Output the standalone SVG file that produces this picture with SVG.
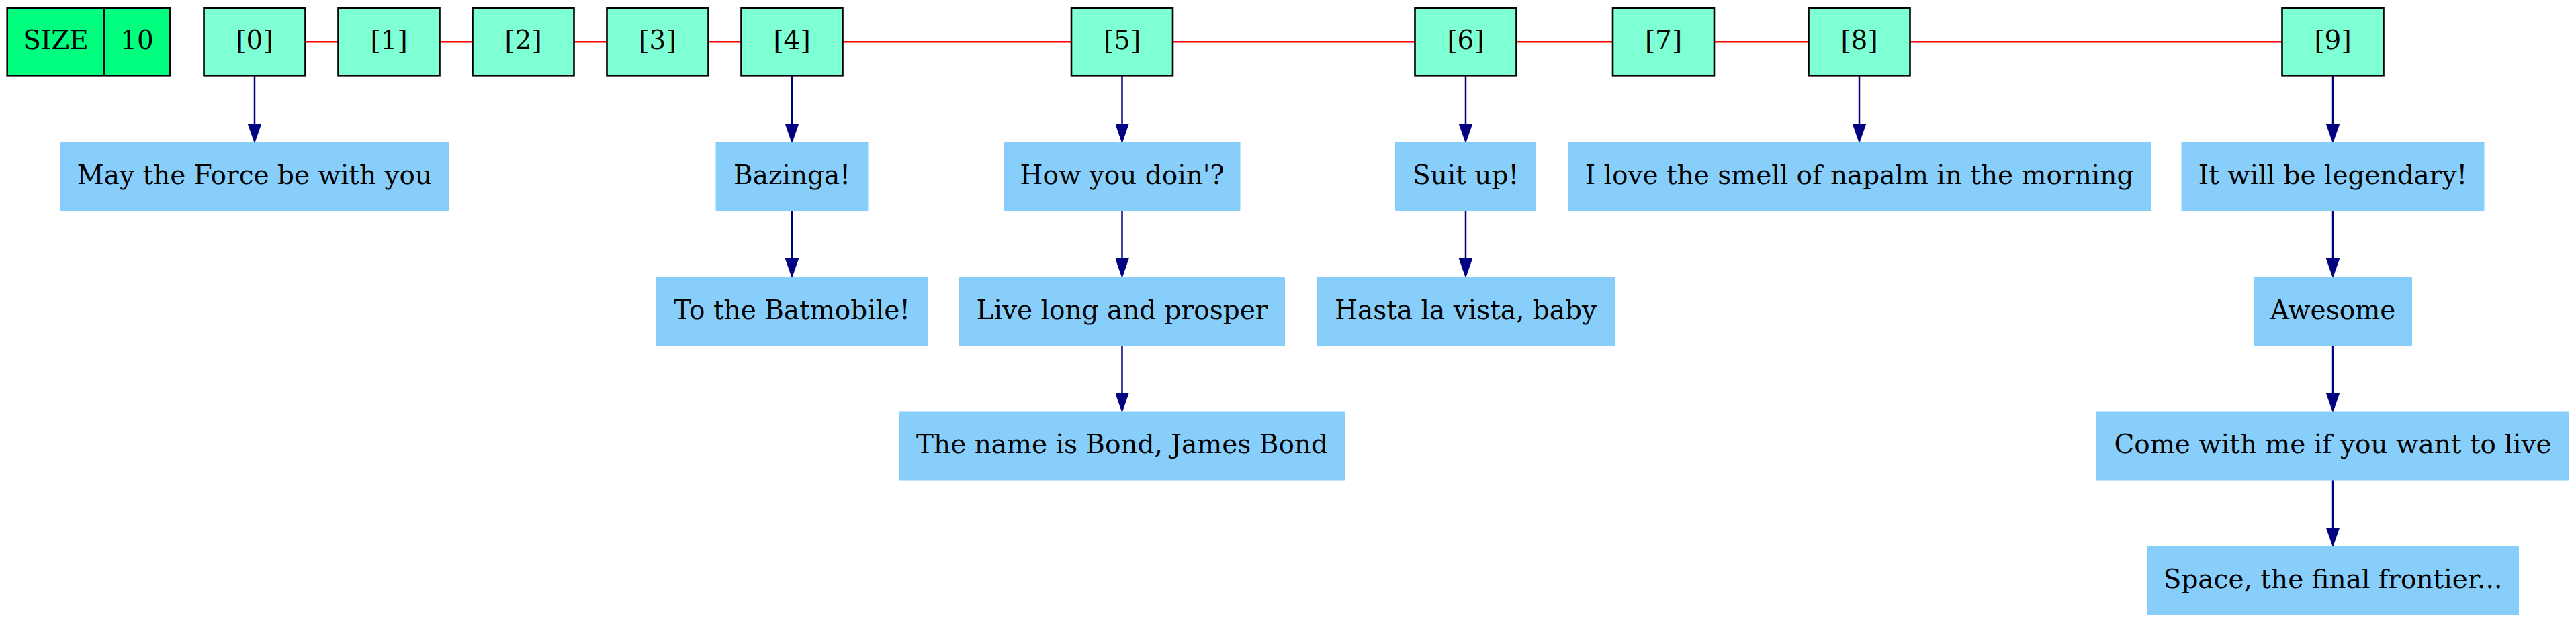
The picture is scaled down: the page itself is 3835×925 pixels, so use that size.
<svg xmlns="http://www.w3.org/2000/svg" width="3835" height="925" viewBox="0 0 3835 925">
<style>
  .idx { fill: #7fffd4; stroke: #000000; stroke-width: 2.6; }
  .size { fill: #00ff7f; stroke: #000000; stroke-width: 2.6; }
  .val { fill: #87cefa; stroke: #87cefa; stroke-width: 2; }
  text { font-family: "DejaVu Serif", "Liberation Serif", serif; font-size: 39px; fill: #000000; text-anchor: middle; }
  .link { stroke: #ff0000; stroke-width: 2.6; fill: none; }
  .ptr { stroke: #000080; stroke-width: 2.5; fill: none; marker-end: url(#arr); }
</style>
<defs>
  <marker id="arr" markerUnits="userSpaceOnUse" viewBox="0 0 28 20" refX="0" refY="10" markerWidth="28" markerHeight="20" orient="auto">
    <path d="M0,0.3 L28,10 L0,19.7 z" fill="#000080" stroke="#000080" stroke-width="1"/>
  </marker>
</defs>
<rect width="3835" height="925" fill="#ffffff"/>
<g id="connectors">
  <line class="link" x1="454.5" y1="62.3" x2="503.5" y2="62.3"/>
  <line class="link" x1="654.5" y1="62.3" x2="703.5" y2="62.3"/>
  <line class="link" x1="854.5" y1="62.3" x2="903.5" y2="62.3"/>
  <line class="link" x1="1054.5" y1="62.3" x2="1103.5" y2="62.3"/>
  <line class="link" x1="1254.5" y1="62.3" x2="1595" y2="62.3"/>
  <line class="link" x1="1746" y1="62.3" x2="2106.5" y2="62.3"/>
  <line class="link" x1="2257.5" y1="62.3" x2="2401" y2="62.3"/>
  <line class="link" x1="2552" y1="62.3" x2="2692.5" y2="62.3"/>
  <line class="link" x1="2843.5" y1="62.3" x2="3397.5" y2="62.3"/>
  <line class="ptr" x1="379" y1="112.3" x2="379" y2="184.5"/>
  <line class="ptr" x1="1179" y1="112.3" x2="1179" y2="184.5"/>
  <line class="ptr" x1="1179" y1="313.5" x2="1179" y2="385"/>
  <line class="ptr" x1="1670.5" y1="112.3" x2="1670.5" y2="184.5"/>
  <line class="ptr" x1="1670.5" y1="313.5" x2="1670.5" y2="385"/>
  <line class="ptr" x1="1670.5" y1="514" x2="1670.5" y2="585.5"/>
  <line class="ptr" x1="2182" y1="112.3" x2="2182" y2="184.5"/>
  <line class="ptr" x1="2182" y1="313.5" x2="2182" y2="385"/>
  <line class="ptr" x1="2768" y1="112.3" x2="2768" y2="184.5"/>
  <line class="ptr" x1="3473" y1="112.3" x2="3473" y2="184.5"/>
  <line class="ptr" x1="3473" y1="313.5" x2="3473" y2="385"/>
  <line class="ptr" x1="3473" y1="514" x2="3473" y2="585.5"/>
  <line class="ptr" x1="3473" y1="714.5" x2="3473" y2="786"/>
</g>
<g id="size">
  <rect class="size" x="10.7" y="12.3" width="242.6" height="100"/>
  <line x1="155" y1="12.3" x2="155" y2="112.3" stroke="#000000" stroke-width="2.6"/>
  <text x="83" y="73.3">SIZE</text>
  <text x="204" y="73.3">10</text>
</g>
<g id="idx0"><rect class="idx" x="303.5" y="12.3" width="151" height="100"/><text x="379" y="73.3">[0]</text></g>
<g id="idx1"><rect class="idx" x="503.5" y="12.3" width="151" height="100"/><text x="579" y="73.3">[1]</text></g>
<g id="idx2"><rect class="idx" x="703.5" y="12.3" width="151" height="100"/><text x="779" y="73.3">[2]</text></g>
<g id="idx3"><rect class="idx" x="903.5" y="12.3" width="151" height="100"/><text x="979" y="73.3">[3]</text></g>
<g id="idx4"><rect class="idx" x="1103.5" y="12.3" width="151" height="100"/><text x="1179" y="73.3">[4]</text></g>
<g id="idx5"><rect class="idx" x="1595" y="12.3" width="151" height="100"/><text x="1670.5" y="73.3">[5]</text></g>
<g id="idx6"><rect class="idx" x="2106.5" y="12.3" width="151" height="100"/><text x="2182" y="73.3">[6]</text></g>
<g id="idx7"><rect class="idx" x="2401" y="12.3" width="151" height="100"/><text x="2476.5" y="73.3">[7]</text></g>
<g id="idx8"><rect class="idx" x="2692.5" y="12.3" width="151" height="100"/><text x="2768" y="73.3">[8]</text></g>
<g id="idx9"><rect class="idx" x="3397.5" y="12.3" width="151" height="100"/><text x="3473" y="73.3">[9]</text></g>
<g id="n_force"><rect class="val" x="90.5" y="212.5" width="577" height="101"/><text x="379" y="274">May the Force be with you</text></g>
<g id="n_bazinga"><rect class="val" x="1066.5" y="212.5" width="225" height="101"/><text x="1179" y="274">Bazinga!</text></g>
<g id="n_batmobile"><rect class="val" x="978" y="413" width="402" height="101"/><text x="1179" y="474.5">To the Batmobile!</text></g>
<g id="n_howyou"><rect class="val" x="1495.5" y="212.5" width="350" height="101"/><text x="1670.5" y="274">How you doin'?</text></g>
<g id="n_livelong"><rect class="val" x="1429" y="413" width="483" height="101"/><text x="1670.5" y="474.5">Live long and prosper</text></g>
<g id="n_bond"><rect class="val" x="1340" y="613.5" width="661" height="101"/><text x="1670.5" y="675">The name is Bond, James Bond</text></g>
<g id="n_suitup"><rect class="val" x="2078" y="212.5" width="208" height="101"/><text x="2182" y="274">Suit up!</text></g>
<g id="n_hasta"><rect class="val" x="1961" y="413" width="442" height="101"/><text x="2182" y="474.5">Hasta la vista, baby</text></g>
<g id="n_napalm"><rect class="val" x="2335" y="212.5" width="866" height="101"/><text x="2768" y="274">I love the smell of napalm in the morning</text></g>
<g id="n_legendary"><rect class="val" x="3248.5" y="212.5" width="449" height="101"/><text x="3473" y="274">It will be legendary!</text></g>
<g id="n_awesome"><rect class="val" x="3356" y="413" width="234" height="101"/><text x="3473" y="474.5">Awesome</text></g>
<g id="n_comewith"><rect class="val" x="3122" y="613.5" width="702" height="101"/><text x="3473" y="675">Come with me if you want to live</text></g>
<g id="n_space"><rect class="val" x="3197" y="814" width="552" height="101"/><text x="3473" y="875.5">Space, the final frontier...</text></g>
</svg>
